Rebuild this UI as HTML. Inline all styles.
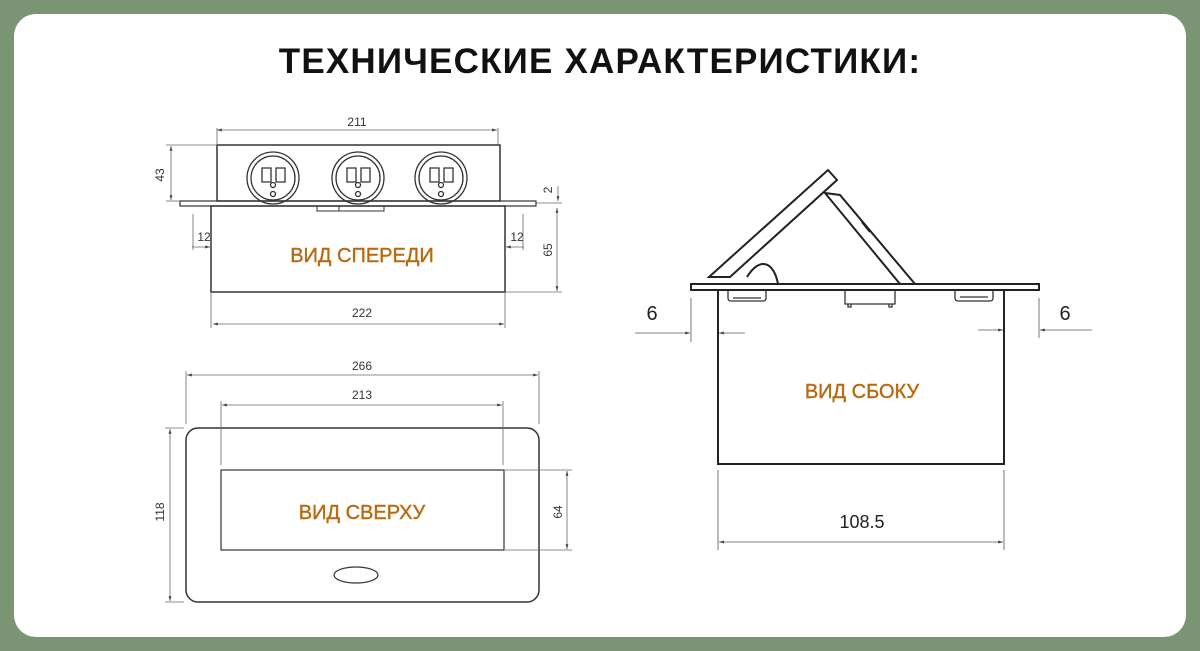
<!DOCTYPE html>
<html><head><meta charset="utf-8"><style>
body{margin:0;width:1200px;height:651px;background:#7a9474;overflow:hidden}
svg{display:block}
</style></head><body>
<svg width="1200" height="651" viewBox="0 0 1200 651" font-family="Liberation Sans, sans-serif">
<defs>
<marker id="a" viewBox="0 0 10 10" refX="10" refY="5" markerWidth="8" markerHeight="6" orient="auto-start-reverse"><path d="M0,2 L10,5 L0,8z" fill="#444"/></marker>
</defs>
<rect x="14" y="14" width="1172" height="623" rx="22" fill="#fff"/>
<text x="600" y="73" text-anchor="middle" font-size="35" font-weight="bold" fill="#111" letter-spacing="1.2">ТЕХНИЧЕСКИЕ ХАРАКТЕРИСТИКИ:</text>

<g stroke="#333" fill="none" stroke-width="1.5">
<rect x="217" y="145" width="283" height="56"/>
<rect x="180" y="201" width="356" height="5" stroke-width="1.2"/>
<rect x="211" y="206" width="294" height="86"/>
<path d="M317 206v5h67v-5 M339 206v5" stroke-width="1"/>
<g stroke-width="1.3">
<circle cx="273" cy="178" r="26"/><circle cx="273" cy="178" r="22"/>
<circle cx="358" cy="178" r="26"/><circle cx="358" cy="178" r="22"/>
<circle cx="441" cy="178" r="26"/><circle cx="441" cy="178" r="22"/>
<path d="M262 168h9v14h-9z M276 168h9v14h-9z M347 168h9v14h-9z M361 168h9v14h-9z M430 168h9v14h-9z M444 168h9v14h-9z"/>
<circle cx="273" cy="185" r="2.5"/><circle cx="273" cy="194" r="2.5"/>
<circle cx="358" cy="185" r="2.5"/><circle cx="358" cy="194" r="2.5"/>
<circle cx="441" cy="185" r="2.5"/><circle cx="441" cy="194" r="2.5"/>
</g>
</g>
<g stroke="#666" stroke-width="0.8" fill="none">
<line x1="217" y1="130" x2="497" y2="130" marker-start="url(#a)" marker-end="url(#a)"/>
<line x1="217" y1="128" x2="217" y2="145"/><line x1="498" y1="128" x2="498" y2="145"/>
<line x1="171" y1="146" x2="171" y2="200" marker-start="url(#a)" marker-end="url(#a)"/>
<line x1="166" y1="145" x2="217" y2="145"/><line x1="166" y1="201" x2="180" y2="201"/>
<line x1="558" y1="186" x2="558" y2="201" marker-end="url(#a)"/>
<line x1="536" y1="203" x2="562" y2="203"/>
<line x1="557" y1="208" x2="557" y2="291" marker-start="url(#a)" marker-end="url(#a)"/>
<line x1="505" y1="292" x2="562" y2="292"/>
<line x1="192" y1="247" x2="210" y2="247" marker-end="url(#a)"/><line x1="193" y1="214" x2="193" y2="250"/>
<line x1="524" y1="247" x2="506" y2="247" marker-end="url(#a)"/><line x1="523" y1="214" x2="523" y2="250"/>
<line x1="213" y1="324" x2="504" y2="324" marker-start="url(#a)" marker-end="url(#a)"/>
<line x1="211" y1="292" x2="211" y2="328"/><line x1="505" y1="292" x2="505" y2="328"/>
</g>
<g font-size="12" fill="#333">
<text x="357" y="126" text-anchor="middle">211</text>
<text x="362" y="317" text-anchor="middle">222</text>
<text x="204" y="241" text-anchor="middle">12</text>
<text x="517" y="241" text-anchor="middle">12</text>
<text transform="translate(164,175) rotate(-90)" text-anchor="middle">43</text>
<text transform="translate(552,190) rotate(-90)" text-anchor="middle">2</text>
<text transform="translate(552,250) rotate(-90)" text-anchor="middle">65</text>
</g>
<text x="362" y="262" text-anchor="middle" font-size="20" fill="#b86a10" stroke="#b86a10" stroke-width="0.4">ВИД СПЕРЕДИ</text>

<g stroke="#333" fill="none" stroke-width="1.5">
<rect x="186" y="428" width="353" height="174" rx="12"/>
<rect x="221" y="470" width="283" height="80" stroke-width="1.2"/>
<ellipse cx="356" cy="575" rx="22" ry="8" stroke-width="1.2"/>
</g>
<g stroke="#666" stroke-width="0.8" fill="none">
<line x1="187" y1="375" x2="538" y2="375" marker-start="url(#a)" marker-end="url(#a)"/>
<line x1="186" y1="371" x2="186" y2="424"/><line x1="539" y1="371" x2="539" y2="424"/>
<line x1="222" y1="405" x2="502" y2="405" marker-start="url(#a)" marker-end="url(#a)"/>
<line x1="221" y1="401" x2="221" y2="465"/><line x1="503" y1="401" x2="503" y2="465"/>
<line x1="170" y1="429" x2="170" y2="601" marker-start="url(#a)" marker-end="url(#a)"/>
<line x1="165" y1="428" x2="184" y2="428"/><line x1="165" y1="602" x2="184" y2="602"/>
<line x1="567" y1="471" x2="567" y2="549" marker-start="url(#a)" marker-end="url(#a)"/>
<line x1="505" y1="470" x2="572" y2="470"/><line x1="505" y1="550" x2="572" y2="550"/>
</g>
<g font-size="12" fill="#333">
<text x="362" y="370" text-anchor="middle">266</text>
<text x="362" y="399" text-anchor="middle">213</text>
<text transform="translate(164,512) rotate(-90)" text-anchor="middle">118</text>
<text transform="translate(562,512) rotate(-90)" text-anchor="middle">64</text>
</g>
<text x="362" y="519" text-anchor="middle" font-size="20" fill="#b86a10" stroke="#b86a10" stroke-width="0.4">ВИД СВЕРХУ</text>

<g stroke="#222" fill="#fff" stroke-width="2">
<polygon points="709,277 828,170 837,180 730,277"/>
<polygon points="825,193 840,195 915,284 900,284"/>
<path d="M862,222 L870,232" />
<path d="M747,277 C760,256 774,262 778,284" fill="none"/>
<rect x="691" y="284" width="348" height="6"/>
<path d="M718 290 V464 H1004 V290" fill="none"/>
</g>
<g stroke="#333" stroke-width="1.3" fill="none">
<path d="M728 290v8q0 3 3 3h32q3 0 3-3v-8 M733 298h28"/>
<path d="M845 290v14h50v-14 M848 304v3h3v-3 M889 304v3h3v-3"/>
<path d="M955 290v8q0 3 3 3h32q3 0 3-3v-8 M960 297h28"/>
</g>
<g stroke="#555" stroke-width="0.8" fill="none">
<line x1="635" y1="333" x2="690" y2="333" marker-end="url(#a)"/>
<line x1="745" y1="333" x2="719" y2="333" marker-end="url(#a)"/>
<line x1="691" y1="298" x2="691" y2="342"/>
<line x1="978" y1="330" x2="1003" y2="330" marker-end="url(#a)"/>
<line x1="1092" y1="330" x2="1040" y2="330" marker-end="url(#a)"/>
<line x1="1039" y1="298" x2="1039" y2="338"/>
<line x1="719" y1="542" x2="1003" y2="542" marker-start="url(#a)" marker-end="url(#a)"/>
<line x1="718" y1="470" x2="718" y2="550"/><line x1="1004" y1="470" x2="1004" y2="550"/>
</g>
<g font-size="20" fill="#222">
<text x="652" y="320" text-anchor="middle">6</text>
<text x="1065" y="320" text-anchor="middle">6</text>
<text x="862" y="528" text-anchor="middle" font-size="18">108.5</text>
</g>
<text x="862" y="398" text-anchor="middle" font-size="20" fill="#b86a10" stroke="#b86a10" stroke-width="0.4">ВИД СБОКУ</text>
</svg>
</body></html>
